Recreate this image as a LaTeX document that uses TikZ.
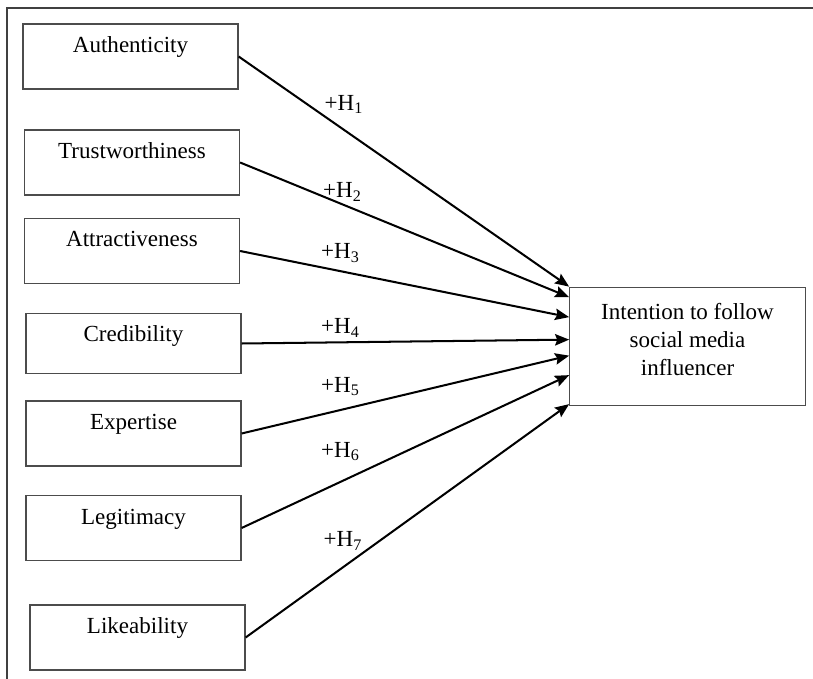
\documentclass[tikz,border=0pt]{standalone}
\usepackage{fontspec}
\setmainfont{Liberation Serif}
\usepackage{tikz}
\usetikzlibrary{shapes.geometric, arrows, arrows.meta, positioning}
\tikzstyle{factor} = [rectangle, minimum width=4.3cm, text height=0.57cm, text depth=0.73cm, inner ysep=0pt, text centered, draw=black!70, line width=0.7pt]
\tikzstyle{outcome} = [rectangle, minimum width=4.71cm, minimum height=2.37cm, align=center, draw=black!70, line width=0.7pt]
\tikzstyle{frame} = [draw=black!75, line width=0.7pt]
\tikzstyle{arrow} = [line width=1.15pt,->,>={Stealth[length=8pt,width=6.5pt,inset=1.2pt]}]

\begin{document}
\begin{tikzpicture}[node distance=1.85cm, font=\fontsize{13.1pt}{16.1pt}\selectfont]
    \useasboundingbox (0,0) rectangle (16.26,-13.58);
    \draw [frame] (0.14,-13.58) |- (16.26,-0.16);

    \node (authenticity) [factor] at (2.61,-1.13) {Authenticity};
    \node (trustworthiness) [factor, below of=authenticity, xshift=0.03cm, yshift=-0.27cm] {Trustworthiness};
    \node (attractiveness) [factor, below of=trustworthiness, yshift=0.08cm] {Attractiveness};
    \node (credibility) [factor, below of=attractiveness, xshift=0.03cm, text depth=0.63cm] {Credibility};
    \node (expertise) [factor, below of=credibility, yshift=0.05cm] {Expertise};
    \node (legitimacy) [factor, below of=expertise, yshift=-0.04cm] {Legitimacy};
    \node (likeability) [factor, below of=legitimacy, xshift=0.08cm, yshift=-0.34cm] {Likeability};

    \node (intention) [outcome, right of=credibility, xshift=9.23cm, yshift=-0.06cm] {Intention to follow\\social media\\influencer\rule[-0.28cm]{0pt}{0pt}};

    \draw [arrow] (authenticity.east) -- (intention.north west);
    \draw [arrow] (trustworthiness.east) -- ([yshift=-0.21cm]intention.north west);
    \draw [arrow] (attractiveness.east) -- ([yshift=-0.61cm]intention.north west);
    \draw [arrow] (credibility.east) -- ([yshift=-1.06cm]intention.north west);
    \draw [arrow] (expertise.east) -- ([yshift=-1.38cm]intention.north west);
    \draw [arrow] (legitimacy.east) -- ([yshift=-1.77cm]intention.north west);
    \draw [arrow] (likeability.east) -- ([yshift=-2.35cm]intention.north west);

    \node(authenticity_text)[right of=authenticity, xshift=2.42cm, yshift=-0.96cm] {+H\textsubscript{1}};
    \node(trustworthiness_text)[right of=trustworthiness, xshift=2.36cm, yshift=-0.59cm] {+H\textsubscript{2}};
    \node(attractiveness_text)[right of=attractiveness, xshift=2.32cm, yshift=-0.04cm] {+H\textsubscript{3}};
    \node(credibility_text)[right of=credibility, xshift=2.29cm, yshift=0.31cm] {+H\textsubscript{4}};
    \node(expertise_text)[right of=expertise, xshift=2.29cm, yshift=0.94cm] {+H\textsubscript{5}};
    \node(legitimacy_text)[right of=legitimacy, xshift=2.29cm, yshift=1.53cm] {+H\textsubscript{6}};
    \node(likeability_text)[right of=likeability, xshift=2.26cm, yshift=1.93cm] {+H\textsubscript{7}};

\end{tikzpicture}
\end{document}
